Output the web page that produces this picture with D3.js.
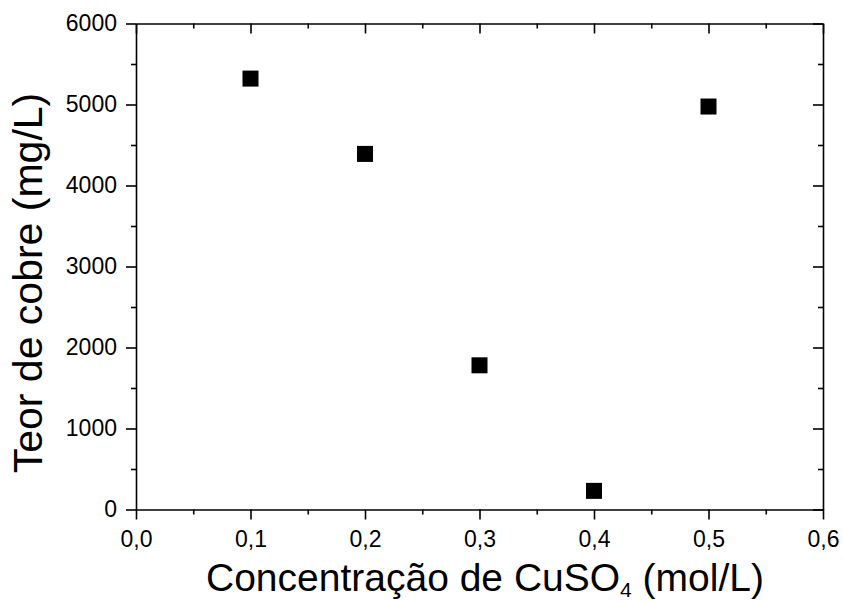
<!DOCTYPE html>
<html>
<head>
<meta charset="utf-8">
<script src="https://cdn.jsdelivr.net/npm/d3@7"></script>
<style>
  body { margin: 0; background: #fff; }
  svg { display: block; font-family: "Liberation Sans", Arial, sans-serif; }
  .tick text { font-size: 23px; fill: #000; }
</style>
</head>
<body>
<svg id="chart" width="843" height="604"></svg>
<script>
// data
const concentration = [0.1, 0.2, 0.3, 0.4, 0.5];
const copper = [5320, 4390, 1780, 230, 4975];
const xTicks = [0, 0.1, 0.2, 0.3, 0.4, 0.5, 0.6];
const yTicks = [0, 1000, 2000, 3000, 4000, 5000, 6000];

const W = 843, H = 604;
const margin = {left: 136, right: 20, top: 23.5, bottom: 94.5};

let svg = d3.select('#chart');

let x = d3.scaleLinear().domain([0, 0.6]).range([margin.left, W - margin.right]);
let y = d3.scaleLinear().domain([0, 6000]).range([H - margin.bottom, margin.top]);

const fmtX = d => d3.format('.1f')(d).replace('.', ',');
const minorX = d3.range(0.05, 0.6, 0.1);
const minorY = d3.range(500, 6000, 1000);

function styleAxis(g) {
    g.attr('font-size', null).attr('font-family', null);
    g.select('.domain').attr('stroke-width', 1.6);
    g.selectAll('.tick line').attr('stroke-width', 1.6);
}

// bottom axis (ticks out)
svg.append('g')
    .attr('transform', `translate(0,${y(0)})`)
    .call(d3.axisBottom(x).tickValues(xTicks).tickFormat(fmtX).tickSize(10).tickPadding(11).tickSizeOuter(0))
    .call(styleAxis);
svg.append('g')
    .attr('transform', `translate(0,${y(0)})`)
    .call(d3.axisBottom(x).tickValues(minorX).tickFormat('').tickSize(5).tickSizeOuter(0))
    .call(g => g.select('.domain').remove())
    .call(styleAxis);

// top axis (ticks in)
svg.append('g')
    .attr('transform', `translate(0,${y(6000)})`)
    .call(d3.axisBottom(x).tickValues(xTicks).tickFormat('').tickSize(10).tickSizeOuter(0))
    .call(styleAxis);
svg.append('g')
    .attr('transform', `translate(0,${y(6000)})`)
    .call(d3.axisBottom(x).tickValues(minorX).tickFormat('').tickSize(5).tickSizeOuter(0))
    .call(g => g.select('.domain').remove())
    .call(styleAxis);

// left axis (ticks out)
svg.append('g')
    .attr('transform', `translate(${x(0)},0)`)
    .call(d3.axisLeft(y).tickValues(yTicks).tickFormat(d3.format('d')).tickSize(10).tickPadding(9).tickSizeOuter(0))
    .call(styleAxis);
svg.append('g')
    .attr('transform', `translate(${x(0)},0)`)
    .call(d3.axisLeft(y).tickValues(minorY).tickFormat('').tickSize(5).tickSizeOuter(0))
    .call(g => g.select('.domain').remove())
    .call(styleAxis);

// right axis (ticks in)
svg.append('g')
    .attr('transform', `translate(${x(0.6)},0)`)
    .call(d3.axisRight(y).tickValues(yTicks).tickFormat('').tickSize(-10).tickSizeOuter(0))
    .call(styleAxis);
svg.append('g')
    .attr('transform', `translate(${x(0.6)},0)`)
    .call(d3.axisRight(y).tickValues(minorY).tickFormat('').tickSize(-5).tickSizeOuter(0))
    .call(g => g.select('.domain').remove())
    .call(styleAxis);

// points
const S = 16;
svg.append('g')
    .selectAll('rect')
    .data(concentration)
    .join('rect')
    .attr('x', (d, i) => x(d) - S / 2)
    .attr('y', (d, i) => y(copper[i]) - S / 2)
    .attr('width', S)
    .attr('height', S)
    .attr('fill', '#000');

// axis titles
let xt = svg.append('text')
    .attr('x', 485)
    .attr('y', 591)
    .attr('text-anchor', 'middle')
    .attr('font-size', 39)
    .attr('fill', '#000');
xt.append('tspan').text('Concentração de CuSO');
xt.append('tspan').attr('font-size', 21).attr('dy', 6).text('4');
xt.append('tspan').attr('dy', -6).text(' (mol/L)');

svg.append('text')
    .attr('transform', `translate(42,283) rotate(-90)`)
    .attr('text-anchor', 'middle')
    .attr('font-size', 41)
    .attr('fill', '#000')
    .text('Teor de cobre (mg/L)');
</script>
</body>
</html>
